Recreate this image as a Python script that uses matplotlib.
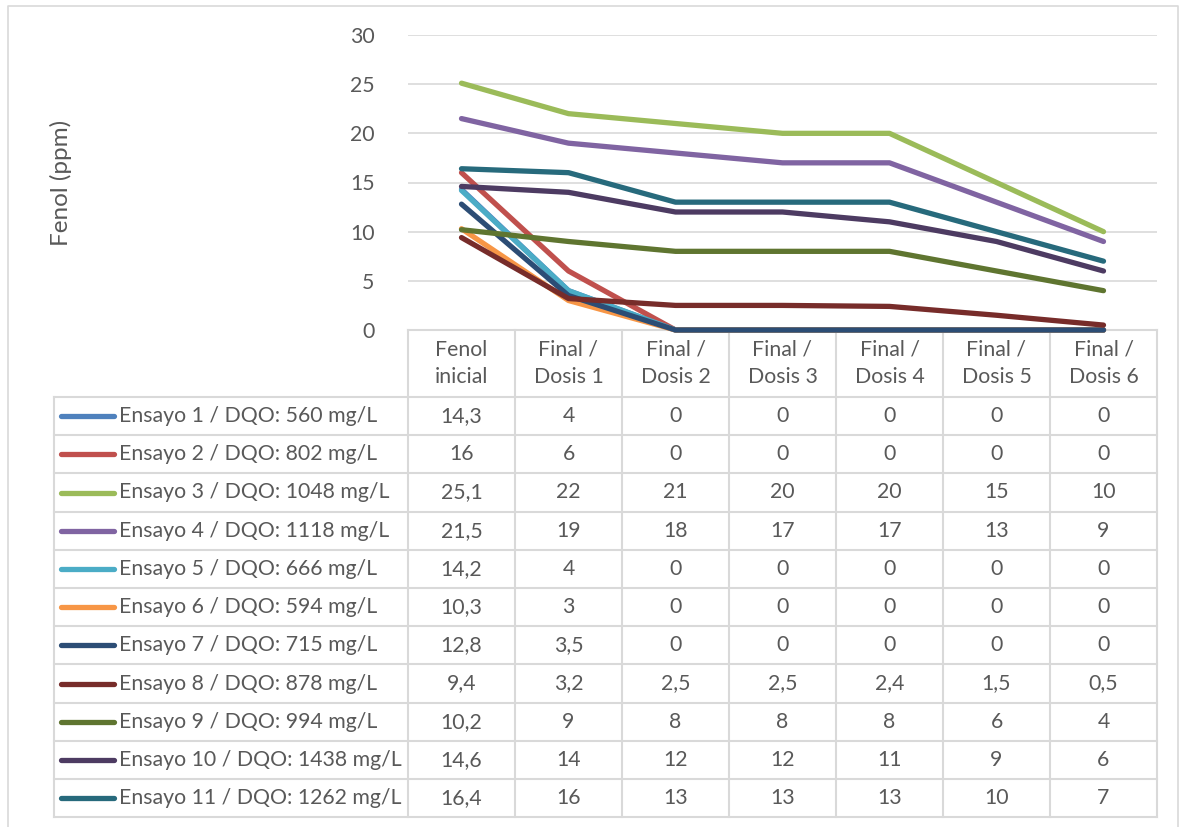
import matplotlib
matplotlib.use("Agg")
import matplotlib.pyplot as plt

# ── Data ──────────────────────────────────────────────────────────────────────
categories = ["Fenol\ninicial", "Final /\nDosis 1", "Final /\nDosis 2", "Final /\nDosis 3",
              "Final /\nDosis 4", "Final /\nDosis 5", "Final /\nDosis 6"]

series_names = [
    "Ensayo 1 / DQO: 560 mg/L",
    "Ensayo 2 / DQO: 802 mg/L",
    "Ensayo 3 / DQO: 1048 mg/L",
    "Ensayo 4 / DQO: 1118 mg/L",
    "Ensayo 5 / DQO: 666 mg/L",
    "Ensayo 6 / DQO: 594 mg/L",
    "Ensayo 7 / DQO: 715 mg/L",
    "Ensayo 8 / DQO: 878 mg/L",
    "Ensayo 9 / DQO: 994 mg/L",
    "Ensayo 10 / DQO: 1438 mg/L",
    "Ensayo 11 / DQO: 1262 mg/L",
]

ensayo_1  = [14.3, 4, 0, 0, 0, 0, 0]
ensayo_2  = [16, 6, 0, 0, 0, 0, 0]
ensayo_3  = [25.1, 22, 21, 20, 20, 15, 10]
ensayo_4  = [21.5, 19, 18, 17, 17, 13, 9]
ensayo_5  = [14.2, 4, 0, 0, 0, 0, 0]
ensayo_6  = [10.3, 3, 0, 0, 0, 0, 0]
ensayo_7  = [12.8, 3.5, 0, 0, 0, 0, 0]
ensayo_8  = [9.4, 3.2, 2.5, 2.5, 2.4, 1.5, 0.5]
ensayo_9  = [10.2, 9, 8, 8, 8, 6, 4]
ensayo_10 = [14.6, 14, 12, 12, 11, 9, 6]
ensayo_11 = [16.4, 16, 13, 13, 13, 10, 7]

series_values = [ensayo_1, ensayo_2, ensayo_3, ensayo_4, ensayo_5, ensayo_6,
                 ensayo_7, ensayo_8, ensayo_9, ensayo_10, ensayo_11]

colors = ["#4F81BD", "#C0504D", "#9BBB59", "#8064A2", "#4BACC6", "#F79646",
          "#2C4D75", "#772C2A", "#5F7530", "#4D3B62", "#276A7C"]

yticks = [0, 5, 10, 15, 20, 25, 30]

# ── Layout (pixels) ───────────────────────────────────────────────────────────
W, H = 1188, 827
TEXT = "#595959"
GRID = "#D9D9D9"
plt.rcParams['font.family'] = ['Lato', 'DejaVu Sans']
FS = 15.3

PL, PR = 408, 1157          # plot / table columns
PT, PB = 35, 330            # plot top / baseline
HEAD_B = 397                # header row bottom
ROW_H = 38.2
LEG_L = 54

def fmt(v):
    s = f"{v:g}"
    return s.replace(".", ",")

fig = plt.figure(figsize=(W / 100, H / 100), dpi=100)

# overlay in pixel coordinates for the table and frame
bg = fig.add_axes([0, 0, 1, 1])
bg.set_xlim(0, W)
bg.set_ylim(H, 0)
bg.axis("off")

# outer chart frame
bg.plot([8, 8, 1178, 1178], [H + 5, 6, 6, H + 5], color=GRID, lw=1.2, clip_on=False)

ax = fig.add_axes([PL / W, (H - PB) / H, (PR - PL) / W, (PB - PT) / H])
ax.set_xlim(-0.5, len(categories) - 0.5)
ax.set_ylim(0, 30)
ax.set_yticks(yticks)
ax.set_yticklabels([str(t) for t in yticks], color=TEXT, fontsize=FS)
ax.tick_params(axis="y", length=0, pad=24)
ax.set_xticks([])
for s in ax.spines.values():
    s.set_visible(False)
ax.grid(axis="y", color=GRID, lw=1.2)
ax.set_axisbelow(True)
ax.patch.set_alpha(0)

for vals, c in zip(series_values, colors):
    ax.plot(range(len(vals)), vals, color=c, lw=3.8, solid_capstyle="round",
            solid_joinstyle="round", clip_on=False)

fig.text(61 / W, 1 - 183 / H, "Fenol (ppm)", rotation=90, ha="center", va="center",
         color=TEXT, fontsize=17.5)

# ── Data table ────────────────────────────────────────────────────────────────
ncols = len(categories)
col_w = (PR - PL) / ncols
n_rows = len(series_names)
table_bottom = HEAD_B + n_rows * ROW_H

# horizontal rules
bg.plot([PL, PR], [PB, PB], color=GRID, lw=1.5, zorder=1)
for r in range(n_rows + 1):
    y = HEAD_B + r * ROW_H
    bg.plot([LEG_L, PR], [y, y], color=GRID, lw=1.5, zorder=1)
# vertical rules
for c in range(ncols + 1):
    x = PL + c * col_w
    bg.plot([x, x], [PB, table_bottom], color=GRID, lw=1.5, zorder=1)
bg.plot([LEG_L, LEG_L], [HEAD_B, table_bottom], color=GRID, lw=1.5, zorder=1)

# header labels
for c, lab in enumerate(categories):
    bg.text(PL + (c + 0.5) * col_w, (PB + HEAD_B) / 2, lab, ha="center", va="center",
            color=TEXT, fontsize=FS, linespacing=1.45)

# rows: legend key, name and values
for r, (name, vals, colr) in enumerate(zip(series_names, series_values, colors)):
    yc = HEAD_B + (r + 0.5) * ROW_H
    bg.plot([61, 114], [yc, yc], color=colr, lw=3.8, solid_capstyle="round")
    bg.text(119, yc, name, ha="left", va="center", color=TEXT, fontsize=FS)
    for c, v in enumerate(vals):
        bg.text(PL + (c + 0.5) * col_w, yc, fmt(v), ha="center", va="center",
                color=TEXT, fontsize=FS)

fig.savefig("out.png", dpi=100)
